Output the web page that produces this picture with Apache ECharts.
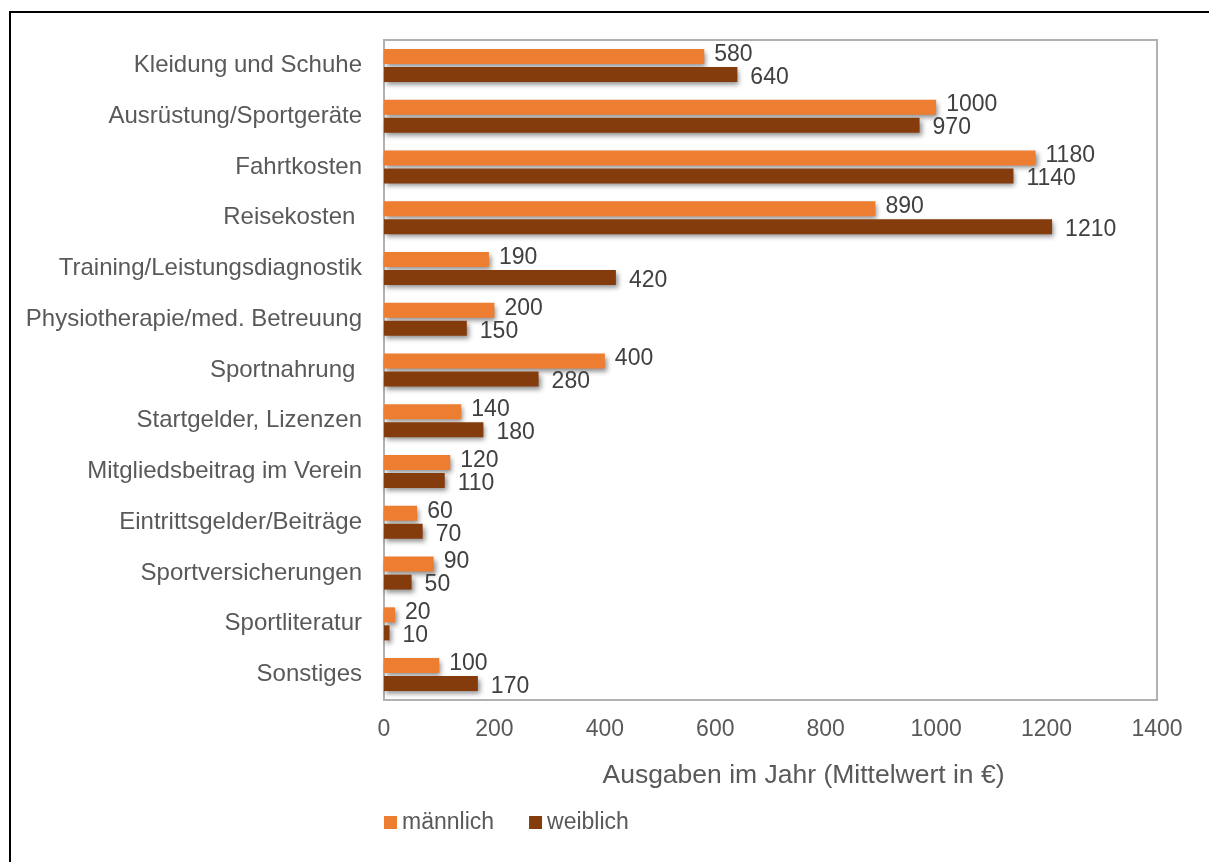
<!DOCTYPE html>
<html>
<head>
<meta charset="utf-8">
<script src="https://cdn.jsdelivr.net/npm/echarts@6/dist/echarts.min.js"></script>
<style>
html,body{margin:0;padding:0;background:#fff;}
#c{width:1209px;height:862px;}
</style>
</head>
<body>
<div id="c"></div>
<script>
const categories = ["Kleidung und Schuhe","Ausrüstung/Sportgeräte","Fahrtkosten","Reisekosten ","Training/Leistungsdiagnostik","Physiotherapie/med. Betreuung","Sportnahrung ","Startgelder, Lizenzen","Mitgliedsbeitrag im Verein","Eintrittsgelder/Beiträge","Sportversicherungen","Sportliteratur","Sonstiges"];
const maennlich = [580,1000,1180,890,190,200,400,140,120,60,90,20,100];
const weiblich = [640,970,1140,1210,420,150,280,180,110,70,50,10,170];
const xTicks = {min:0, max:1400, interval:200};

const chart = echarts.init(document.getElementById('c'), null, {renderer:'canvas'});
const font = 'Liberation Sans, Arial, sans-serif';
const shadow = {shadowColor:'rgba(0,0,0,0.45)', shadowBlur:5, shadowOffsetX:2, shadowOffsetY:3};
chart.setOption({
  animation:false,
  backgroundColor:'#fff',
  textStyle:{fontFamily:font},
  grid:{left:384, right:52, top:40, bottom:162, show:true, borderColor:'#b4b0b2', borderWidth:2, backgroundColor:'transparent'},
  legend:{
    left:379, top:806, itemWidth:13, itemHeight:13, itemGap:35, icon:'rect',
    textStyle:{fontSize:23, color:'#595959', fontFamily:font},
    data:['männlich','weiblich']
  },
  xAxis:{
    type:'value', min:xTicks.min, max:xTicks.max, interval:xTicks.interval,
    axisLine:{show:false}, axisTick:{show:false}, splitLine:{show:false},
    axisLabel:{fontSize:23, color:'#595959', margin:18, fontFamily:font, formatter:function(v){return String(v);}},
    name:'Ausgaben im Jahr (Mittelwert in €)', nameLocation:'middle', nameGap:62,
    nameTextStyle:{fontSize:26.5, color:'#595959', fontFamily:font, padding:[0,0,0,66]}
  },
  yAxis:{
    type:'category', data:categories, inverse:true,
    axisLine:{show:false}, axisTick:{show:false}, splitLine:{show:false},
    axisLabel:{fontSize:24, color:'#595959', margin:22, fontFamily:font}
  },
  series:[
    {name:'männlich', type:'bar', data:maennlich, barWidth:15, barGap:'20%',
     itemStyle:Object.assign({color:'#ED7D31'}, shadow),
     label:{show:true, position:'right', distance:10, fontSize:23, color:'#404040', fontFamily:font, offset:[0,-2]}},
    {name:'weiblich', type:'bar', data:weiblich, barWidth:15,
     itemStyle:Object.assign({color:'#843C0C'}, shadow),
     label:{show:true, position:'right', distance:13, fontSize:23, color:'#404040', fontFamily:font, offset:[0,3]}}
  ],
  graphic:[{type:'rect', shape:{x:10, y:12, width:1300, height:1000}, style:{fill:'none', stroke:'#000', lineWidth:2}, silent:true, z:100}]
});
</script>
</body>
</html>
